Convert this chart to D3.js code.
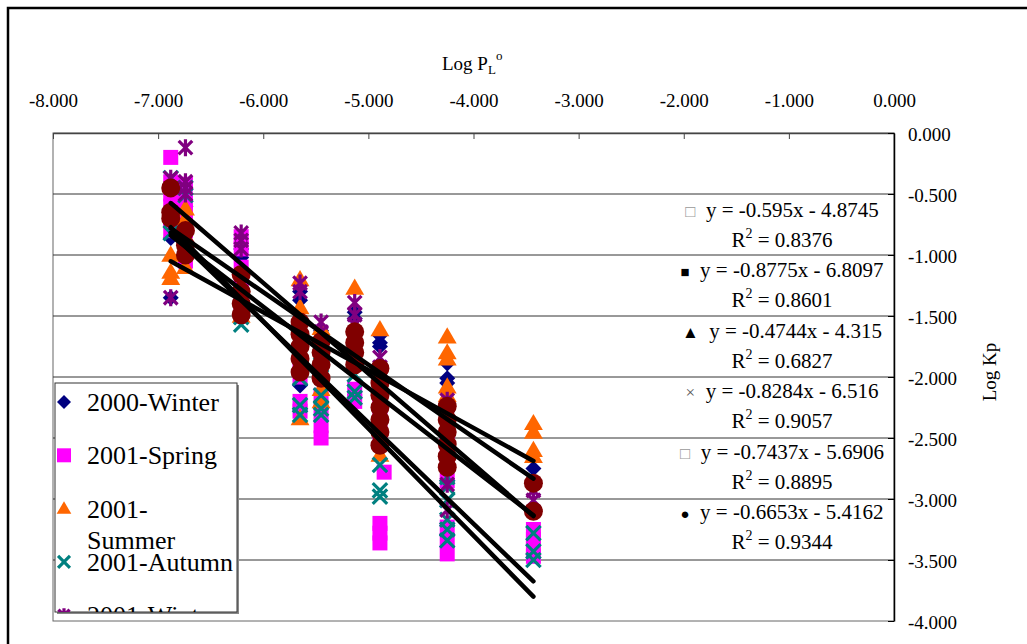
<!DOCTYPE html>
<html><head><meta charset="utf-8">
<script src="https://cdn.jsdelivr.net/npm/d3@7"></script>
<style>
html,body{margin:0;padding:0;background:#fff;}
svg{display:block;font-family:"Liberation Serif","Times New Roman",serif;}
svg text{font-family:"Liberation Serif","Times New Roman",serif;}
</style></head>
<body>
<svg id="chart" width="1027" height="644"></svg>
<script>
// ---------- data ----------
const xTicks = [-8, -7, -6, -5, -4, -3, -2, -1, 0];
const xTickLabels = ["-8.000","-7.000","-6.000","-5.000","-4.000","-3.000","-2.000","-1.000","0.000"];
const yTicks = [0, -0.5, -1, -1.5, -2, -2.5, -3, -3.5, -4];
const yTickLabels = ["0.000","-0.500","-1.000","-1.500","-2.000","-2.500","-3.000","-3.500","-4.000"];

const seriesNames = ["2000-Winter","2001-Spring","2001-Summer","2001-Autumn","2001-Winter","2002-Spring"];
const seriesColors = ["#000080","#FF00FF","#FF6600","#008080","#800080","#800000"];
const seriesShapes = ["diamond","square","triangle","x","star","circle"];

// columns of Log PL values
const cA=-6.88, cB=-6.74, cC=-6.21, cD=-5.65, cE=-5.45, cF=-5.13, cG=-4.89, cH=-4.25, cI=-3.43;

const winter2000 = [[cA,-0.73],[cA,-0.86],[cA,-1.35],[cB,-0.60],[cB,-0.75],[cC,-1.02],[cC,-0.95],
  [cD,-1.30],[cD,-1.37],[cD,-2.07],[cE,-1.62],[cE,-1.70],[cF,-1.47],[cF,-1.52],
  [cG,-1.66],[cG,-1.75],[cG,-1.72],[cH,-1.89],[cH,-2.01],[cH,-2.05],[cI,-2.75]];
const spring2001 = [[cA,-0.20],[cA,-0.40],[cA,-0.50],[cA,-0.60],[cA,-0.70],[cA,-0.80],
  [cB,-0.42],[cB,-0.55],[cB,-0.65],[cB,-0.80],[cB,-0.95],[cB,-1.05],
  [cC,-0.85],[cC,-0.95],[cC,-1.10],[cC,-1.20],[cC,-1.30],[cC,-1.42],[cC,-1.50],
  [cD,-1.90],[cD,-2.00],[cD,-2.20],[cD,-2.28],[cE,-2.15],[cE,-2.28],[cE,-2.40],[cE,-2.50],
  [cF,-2.10],[cF,-2.20],[cG,-2.25],[cG,-2.45],[-4.85,-2.78],[cG,-3.20],[cG,-3.28],[cG,-3.36],
  [cH,-2.55],[cH,-2.70],[cH,-2.85],[cH,-3.23],[cH,-3.34],[cH,-3.45],
  [cI,-3.25],[cI,-3.33],[cI,-3.40],[cI,-3.47]];
const summer2001 = [[cA,-1.00],[cA,-1.14],[cA,-1.19],[cB,-0.62],[cB,-0.70],[cB,-1.10],
  [cC,-1.50],[cC,-1.25],[cD,-1.20],[cD,-1.43],[cD,-2.34],[cE,-1.60],[cE,-2.20],[cE,-2.10],
  [cF,-1.27],[cG,-1.61],[cG,-2.64],[cH,-1.67],[cH,-1.80],[cH,-1.85],[cH,-2.08],[cH,-2.15],
  [cI,-2.38],[cI,-2.45],[cI,-2.60],[cI,-2.65]];
const autumn2001 = [[cA,-0.37],[cA,-0.82],[cB,-0.51],[cB,-0.45],[cC,-1.51],[cC,-1.57],
  [cD,-2.01],[cD,-2.23],[cD,-2.31],[cD,-1.78],[cE,-2.15],[cE,-2.26],[cE,-2.31],[cE,-1.90],
  [cF,-1.98],[cF,-2.17],[cF,-2.12],[cG,-2.72],[cG,-2.93],[cG,-2.98],[cG,-2.50],
  [cH,-2.82],[cH,-2.90],[cH,-3.01],[cH,-3.17],[cH,-3.25],[cH,-3.34],
  [cI,-3.28],[cI,-3.43],[cI,-3.50]];
const winter2001 = [[cA,-0.37],[cA,-1.35],[cB,-0.12],[cB,-0.40],[cB,-0.50],[cB,-0.45],
  [cC,-0.82],[cC,-0.88],[cC,-0.95],[cD,-1.23],[cD,-1.30],[cE,-1.55],[cE,-1.63],
  [cF,-1.39],[cF,-1.49],[cF,-1.57],[cG,-1.84],[cG,-1.92],
  [cH,-2.19],[cH,-2.33],[cH,-3.09],[cH,-2.88],[cI,-2.93],[cI,-3.01]];
const spring2002 = [[cA,-0.45],[cA,-0.65],[cA,-0.70],[cB,-0.92],[cB,-1.00],[cB,-0.80],
  [cC,-1.16],[cC,-1.30],[cC,-1.40],[cC,-1.49],
  [cD,-1.55],[cD,-1.65],[cD,-1.75],[cD,-1.85],[cD,-1.96],
  [cE,-1.71],[cE,-1.80],[cE,-1.90],[cE,-2.01],
  [cF,-1.63],[cF,-1.72],[cF,-1.80],[cF,-1.90],
  [cG,-1.93],[cG,-2.05],[cG,-2.15],[cG,-2.25],[cG,-2.35],[cG,-2.45],[cG,-2.56],
  [cH,-2.24],[cH,-2.35],[cH,-2.45],[cH,-2.55],[cH,-2.65],[cH,-2.74],
  [cI,-2.87],[cI,-3.10]];
const seriesData = [winter2000, spring2001, summer2001, autumn2001, winter2001, spring2002];

// trendline equations (as printed on the chart)
const eqSlopes = [-0.595, -0.8775, -0.4744, -0.8284, -0.7437, -0.6653];
const eqIntercepts = [-4.8745, -6.8097, -4.315, -6.516, -5.6906, -5.4162];
const eqR2 = ["0.8376","0.8601","0.6827","0.9057","0.8895","0.9344"];
const eqSymbols = ["\u25A1","\u25A0","\u25B2","\u00D7","\u25A1","\u25CF"];
const eqSymbolColors = ["#999","#000","#000","#555","#999","#000"];

// ---------- layout ----------
const svg = d3.select("#chart");
const SERIF = "'Liberation Serif','Times New Roman',serif";
const x = d3.scaleLinear().domain([-8, 0]).range([53, 894]);
const y = d3.scaleLinear().domain([-4, 0]).range([621, 133]);

// outer chart frame
svg.append("rect").attr("x", 8).attr("y", 8).attr("width", 1100).attr("height", 700)
  .attr("fill", "#fff").attr("stroke", "#000").attr("stroke-width", 2.5);

// plot area
svg.append("rect").attr("x", x(-8)).attr("y", y(0)).attr("width", x(0) - x(-8)).attr("height", y(-4) - y(0))
  .attr("fill", "#fff").attr("stroke", "#666").attr("stroke-width", 1);

// gridlines
svg.append("g").selectAll("line").data(yTicks.filter(d => d > -4 && d < 0)).join("line")
  .attr("x1", x(-8)).attr("x2", x(0)).attr("y1", d => y(d)).attr("y2", d => y(d))
  .attr("stroke", "#333").attr("stroke-width", 1);

// top x axis
const xAxis = svg.append("g").attr("transform", `translate(0,${y(0)})`)
  .call(d3.axisTop(x).tickValues(xTicks).tickFormat((d, i) => xTickLabels[i])
    .tickSizeInner(-6).tickSizeOuter(0).tickPadding(26));
xAxis.attr("font-family", SERIF).attr("font-size", 19);
xAxis.select(".domain").attr("stroke", "#444").attr("stroke-width", 1.5);
xAxis.selectAll(".tick line").attr("stroke", "#444");
xAxis.selectAll("text").style("font-family", SERIF).attr("font-size", 19).attr("fill", "#000");

// right y axis
const yAxis = svg.append("g").attr("transform", `translate(${x(0)},0)`)
  .call(d3.axisRight(y).tickValues(yTicks).tickFormat((d, i) => yTickLabels[i])
    .tickSizeInner(-6).tickSizeOuter(0).tickPadding(14));
yAxis.attr("font-family", SERIF).attr("font-size", 19);
yAxis.select(".domain").attr("stroke", "#000").attr("stroke-width", 1.5);
yAxis.selectAll(".tick line").attr("stroke", "#000");
yAxis.selectAll("text").style("font-family", SERIF).attr("font-size", 19).attr("fill", "#000")
  .attr("dy", "0.42em");

// axis titles
const xt = svg.append("text").attr("x", 442).attr("y", 70).attr("font-size", 19).attr("fill", "#000");
xt.append("tspan").text("Log P");
xt.append("tspan").attr("font-size", 13).attr("dy", 4).text("L");
xt.append("tspan").attr("font-size", 13).attr("dy", -14).text("o");

svg.append("text").attr("transform", "translate(996,372) rotate(-90)")
  .attr("text-anchor", "middle").attr("font-size", 19).attr("fill", "#000").text("Log Kp");

// ---------- markers ----------
function shapePath(shape, s) {
  const h = s / 2;
  switch (shape) {
    case "diamond": return `M0,${-h}L${h},0L0,${h}L${-h},0Z`;
    case "square": return `M${-h},${-h}H${h}V${h}H${-h}Z`;
    case "triangle": return `M0,${-h*1.05}L${h*1.05},${h*0.75}L${-h*1.05},${h*0.75}Z`;
    case "x": return `M${-h*0.85},${-h*0.85}L${h*0.85},${h*0.85}M${-h*0.85},${h*0.85}L${h*0.85},${-h*0.85}`;
    case "star": return `M${-h*0.8},${-h*0.8}L${h*0.8},${h*0.8}M${-h*0.8},${h*0.8}L${h*0.8},${-h*0.8}M0,${-h}L0,${h}`;
    case "circle": return d3.symbol(d3.symbolCircle, Math.PI * h * h)();
  }
}
function drawMarker(sel, shape, color, s) {
  const stroked = shape === "x" || shape === "star";
  sel.attr("d", shapePath(shape, s))
    .attr("fill", stroked ? "none" : color)
    .attr("stroke", stroked ? color : "none")
    .attr("stroke-width", stroked ? 3.2 : 0);
}
const markerSizes = [16, 15, 18, 17, 17, 19];

seriesData.forEach((data, i) => {
  const g = svg.append("g");
  g.selectAll("path").data(data).join("path")
    .attr("transform", d => `translate(${x(d[0])},${y(d[1])})`)
    .call(sel => drawMarker(sel, seriesShapes[i], seriesColors[i], markerSizes[i]));
});

// ---------- trendlines ----------
seriesData.forEach((data, i) => {
  const ext = d3.extent(data, d => d[0]);
  svg.append("line")
    .attr("x1", x(ext[0])).attr("y1", y(eqSlopes[i] * ext[0] + eqIntercepts[i]))
    .attr("x2", x(ext[1])).attr("y2", y(eqSlopes[i] * ext[1] + eqIntercepts[i]))
    .attr("stroke", "#000").attr("stroke-width", 4.5).attr("stroke-linecap", "round");
});

// ---------- equation labels ----------
const fmt = v => String(v);
eqSlopes.forEach((m, i) => {
  const cy = 210 + 60.4 * i;
  const t1 = svg.append("text").attr("x", 782).attr("y", cy + 7).attr("text-anchor", "middle")
    .attr("font-size", 21).attr("fill", "#000");
  t1.append("tspan").attr("fill", eqSymbolColors[i])
    .attr("font-size", eqSymbols[i] === "\u25A0" || eqSymbols[i] === "\u25CF" ? 15 : 17).text(eqSymbols[i]);
  t1.append("tspan").text("\u00A0 y = " + fmt(m) + "x - " + fmt(Math.abs(eqIntercepts[i])));
  const t2 = svg.append("text").attr("x", 782).attr("y", cy + 37).attr("text-anchor", "middle")
    .attr("font-size", 21).attr("fill", "#000");
  t2.append("tspan").text("R");
  t2.append("tspan").attr("font-size", 14).attr("dy", -9).text("2");
  t2.append("tspan").attr("dy", 9).text(" = " + eqR2[i]);
});

// ---------- legend ----------
const lg = { x: 55, y: 383, w: 182, h: 229 };
svg.append("defs").append("clipPath").attr("id", "legclip")
  .append("rect").attr("x", lg.x).attr("y", lg.y).attr("width", lg.w).attr("height", lg.h);
svg.append("rect").attr("x", lg.x + 2).attr("y", lg.y + 2).attr("width", lg.w).attr("height", lg.h)
  .attr("fill", "#888");
svg.append("rect").attr("x", lg.x).attr("y", lg.y).attr("width", lg.w).attr("height", lg.h)
  .attr("fill", "#fff").attr("stroke", "#333").attr("stroke-width", 1);
const lgG = svg.append("g").attr("clip-path", "url(#legclip)");
let rowY = 402;
seriesNames.forEach((name, i) => {
  lgG.append("path").attr("transform", `translate(64,${rowY})`)
    .call(sel => drawMarker(sel, seriesShapes[i], seriesColors[i], 14));
  const t = lgG.append("text").attr("x", 87).attr("y", rowY + 9).attr("font-size", 26).attr("fill", "#000").text(name);
  if (t.node().getComputedTextLength() > 147) {
    const k = name.indexOf("-") + 1;
    t.text(name.slice(0, k));
    lgG.append("text").attr("x", 87).attr("y", rowY + 40).attr("font-size", 26).attr("fill", "#000").text(name.slice(k));
  }
  rowY += 53.3;
});
</script>
</body></html>
